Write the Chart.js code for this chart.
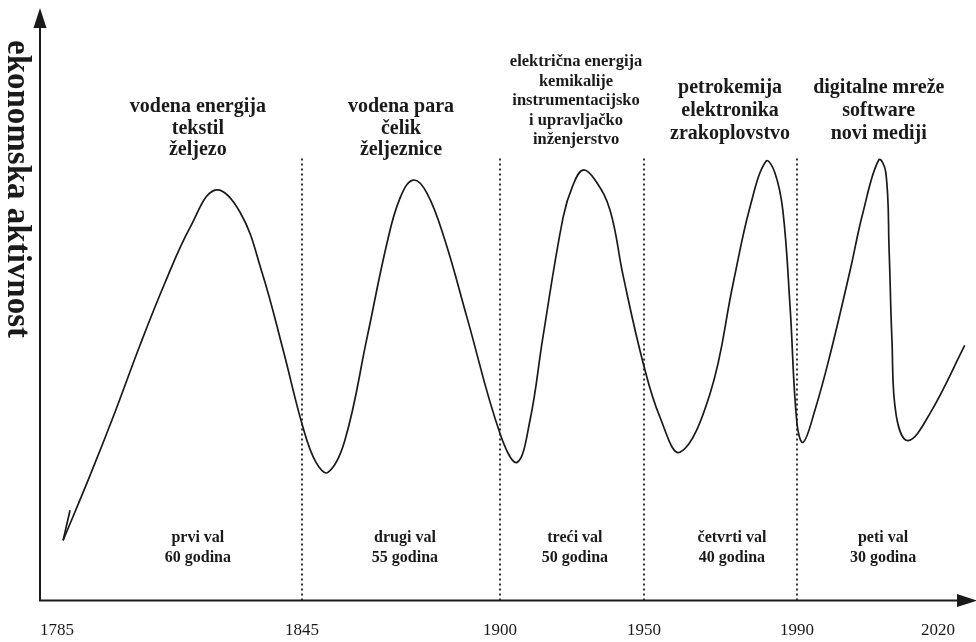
<!DOCTYPE html>
<html>
<head>
<meta charset="utf-8">
<script src="https://cdn.jsdelivr.net/npm/chart.js@4.4.1/dist/chart.umd.min.js"></script>
<style>
  html, body { margin: 0; padding: 0; background: #fff; }
  #wrap { width: 976px; height: 642px; }
</style>
</head>
<body>
<div id="wrap"><canvas id="chart" width="976" height="642"></canvas></div>
<script>
// tick years on the time axis (the axis is not linear in years)
const tickYears = [1785, 1845, 1900, 1950, 1990, 2020];
const tickLabels = ["1785", "1845", "1900", "1950", "1990", "2020"];

// wave borders
const dividerYears = [1845, 1900, 1950, 1990];
const dividerTop = 75;

// the short stroke where the curve starts
const startYears = [1788.2, 1786.5];
const startValues = [15.3, 10.2];

// economic activity curve
const curveYears = [
  1786.5, 1793.1, 1799.2, 1805.3, 1811.5, 1817.6, 1823.7, 1829.8, 1835.2, 1840.4,
  1845.3, 1848.9, 1852.2, 1856.9, 1863.1, 1868.6, 1872.2, 1875.8, 1879.7, 1884.7, 1890.8, 1900.0,
  1905.9, 1910.4, 1914.9, 1921.9, 1925.3, 1928.8, 1933.0, 1938.2, 1942.7, 1949.7,
  1954.2, 1959.4, 1967.3, 1973.3, 1977.7, 1981.9, 1984.2, 1986.3, 1988.2, 1990.0,
  1991.3, 1993.8, 1997.0, 2001.3, 2004.0, 2007.4, 2008.9, 2009.6, 2010.2, 2011.1, 2013.6, 2018.3, 2025.7
];
const curveValues = [
  10.2, 21.2, 31.9, 43.2, 53.9, 63.2, 69.5, 65.8, 55.6, 42.4,
  29.3, 23.4, 21.7, 27.1, 44.6, 60.5, 68.1, 71.2, 69.0, 61.0, 48.0, 28.3,
  23.4, 30.5, 44.6, 64.9, 70.3, 72.9, 71.2, 66.1, 55.1, 40.2,
  31.0, 25.1, 35.1, 53.7, 66.6, 74.4, 72.5, 66.1, 49.7, 30.0,
  26.8, 32.2, 41.5, 55.9, 65.6, 74.6, 72.5, 59.3, 44.1, 31.4, 27.1, 31.7, 43.2
];

const topLabels = [
  ["vodena energija", "tekstil", "željezo"],
  ["vodena para", "čelik", "željeznice"],
  ["električna energija", "kemikalije", "instrumentacijsko", "i upravljačko", "inženjerstvo"],
  ["petrokemija", "elektronika", "zrakoplovstvo"],
  ["digitalne mreže", "software", "novi mediji"]
];
const waveNames = ["prvi val", "drugi val", "treći val", "četvrti val", "peti val"];
const waveLengths = ["60 godina", "55 godina", "50 godina", "40 godina", "30 godina"];

const yTitle = "ekonomska aktivnost";

// year -> fraction of axis width, piecewise
const xStops = [
  [1780.8, 0], [1785, 0.0183], [1845, 0.2823], [1900, 0.4957],
  [1950, 0.6509], [1990, 0.8157], [2020, 0.9677], [2026.4, 1]
];

class SegmentScale extends Chart.LinearScale {
  getPixelForValue(value) {
    if (value === null || value === undefined) return NaN;
    let i = 1;
    while (i < xStops.length - 1 && value > xStops[i][0]) i++;
    const [v0, f0] = xStops[i - 1];
    const [v1, f1] = xStops[i];
    return this.getPixelForDecimal(f0 + (value - v0) / (v1 - v0) * (f1 - f0));
  }
  getValueForPixel(pixel) {
    const d = this.getDecimalForPixel(pixel);
    let i = 1;
    while (i < xStops.length - 1 && d > xStops[i][1]) i++;
    const [v0, f0] = xStops[i - 1];
    const [v1, f1] = xStops[i];
    return v0 + (d - f0) / (f1 - f0) * (v1 - v0);
  }
}
SegmentScale.id = "segment";
SegmentScale.defaults = Chart.LinearScale.defaults;
Chart.register(SegmentScale);

const serif = "'Liberation Serif', 'Times New Roman', serif";
const ink = "#1a1a1a";

const axesPlugin = {
  id: "axes",
  afterDraw(chart) {
    const { ctx, chartArea } = chart;
    const left = chartArea.left;
    const bottom = chartArea.bottom;
    ctx.save();
    ctx.strokeStyle = ink;
    ctx.fillStyle = ink;
    ctx.lineWidth = 2;
    ctx.beginPath();
    ctx.moveTo(left, bottom + 1);
    ctx.lineTo(left, 26);
    ctx.moveTo(left - 1, bottom);
    ctx.lineTo(960, bottom);
    ctx.stroke();
    ctx.beginPath();
    ctx.moveTo(left, 8);
    ctx.lineTo(left - 6.5, 28);
    ctx.lineTo(left + 6.5, 28);
    ctx.closePath();
    ctx.fill();
    ctx.beginPath();
    ctx.moveTo(977, bottom);
    ctx.lineTo(957, bottom - 6.5);
    ctx.lineTo(957, bottom + 6.5);
    ctx.closePath();
    ctx.fill();

    // y axis title, reading top to bottom
    ctx.translate(17, 40);
    ctx.rotate(Math.PI / 2);
    ctx.font = "bold 33px " + serif;
    ctx.textAlign = "left";
    ctx.textBaseline = "middle";
    ctx.fillText(yTitle, 0, 0);
    ctx.restore();
  }
};

const labelsPlugin = {
  id: "waveLabels",
  afterDatasetsDraw(chart, args, opts) {
    const { ctx, scales: { x, y } } = chart;
    ctx.save();
    ctx.fillStyle = ink;
    ctx.textAlign = "center";
    ctx.textBaseline = "middle";
    topLabels.forEach((lines, i) => {
      const pos = opts.top[i];
      ctx.font = `bold ${pos.size}px ${serif}`;
      const cx = x.getPixelForValue(pos.x);
      const cy = y.getPixelForValue(pos.y);
      lines.forEach((line, j) => ctx.fillText(line, cx, cy + j * pos.lh));
    });
    ctx.font = `bold 16px ${serif}`;
    waveNames.forEach((name, i) => {
      const cx = x.getPixelForValue(opts.bottom.x[i]);
      const cy = y.getPixelForValue(opts.bottom.y);
      ctx.fillText(name, cx, cy);
      ctx.fillText(waveLengths[i], cx, cy + opts.bottom.lh);
    });
    ctx.restore();
  }
};

const datasets = [
  {
    data: curveYears.map((yr, i) => ({ x: yr, y: curveValues[i] })),
    borderColor: ink,
    borderWidth: 1.7,
    tension: 0.4,
    pointRadius: 0
  },
  {
    data: startYears.map((yr, i) => ({ x: yr, y: startValues[i] })),
    borderColor: ink,
    borderWidth: 1.7,
    tension: 0,
    pointRadius: 0
  }
];
dividerYears.forEach(yr => {
  datasets.push({
    data: [{ x: yr, y: 0 }, { x: yr, y: dividerTop }],
    borderColor: "#333",
    borderWidth: 2,
    borderDash: [2, 3],
    tension: 0,
    pointRadius: 0
  });
});

new Chart(document.getElementById("chart"), {
  type: "line",
  data: { datasets },
  options: {
    responsive: false,
    devicePixelRatio: 1,
    animation: false,
    layout: { padding: { left: 40, right: 8, top: 10, bottom: -19 } },
    plugins: {
      legend: { display: false },
      tooltip: { enabled: false },
      waveLabels: {
        top: [
          { x: 1819.5, y: 83.6, size: 20, lh: 21.5 },
          { x: 1872.5, y: 83.6, size: 20, lh: 21.5 },
          { x: 1926.4, y: 91.2, size: 16.5, lh: 19.5 },
          { x: 1972.5, y: 86.9, size: 20, lh: 23 },
          { x: 2007.4, y: 86.9, size: 20, lh: 23 }
        ],
        bottom: { x: [1819.5, 1873.6, 1926.0, 1973.0, 2008.3], y: 10.7, lh: 20 }
      }
    },
    scales: {
      x: {
        type: "segment",
        min: 1780.8,
        max: 2026.4,
        grid: { display: false, drawTicks: false },
        border: { display: false },
        afterBuildTicks: scale => {
          scale.ticks = tickYears.map(v => ({ value: v }));
        },
        ticks: {
          autoSkip: false,
          maxRotation: 0,
          padding: 20,
          color: ink,
          font: { family: serif, size: 17 },
          callback: (value, index) => tickLabels[index]
        }
      },
      y: {
        display: false,
        min: 0,
        max: 100
      }
    }
  },
  plugins: [labelsPlugin, axesPlugin]
});
</script>
</body>
</html>
